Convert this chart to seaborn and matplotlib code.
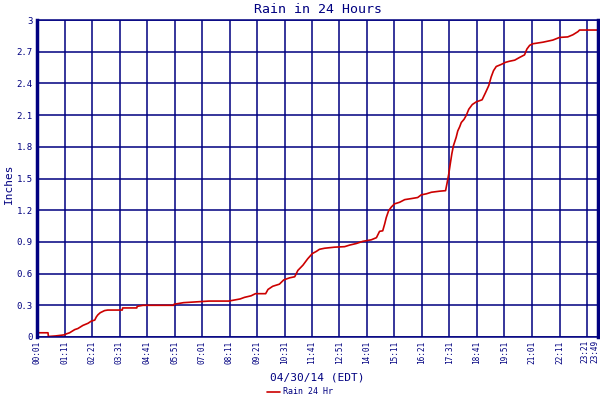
import pandas as pd
import numpy as np
import matplotlib
matplotlib.use('Agg')
import matplotlib.pyplot as plt
import seaborn as sns

# minutes after midnight and accumulated rain (inches)
minutes = [1, 29, 30, 48, 70, 76, 84, 97, 105, 118, 131, 139, 148, 152, 156, 162,
           173, 181, 218, 219, 255, 256, 271, 349, 350, 374, 439, 489, 518, 529,
           546, 557, 583, 589, 601, 618, 629, 644, 657, 665, 678, 690, 702, 712,
           720, 733, 758, 784, 797, 814, 830, 852, 865, 873, 881, 886, 890, 896,
           903, 911, 924, 937, 954, 970, 979, 992, 1005, 1026, 1041, 1045, 1049,
           1053, 1057, 1061, 1068, 1072, 1077, 1081, 1088, 1094, 1100, 1109, 1119,
           1134, 1143, 1151, 1157, 1163, 1170, 1183, 1194, 1204, 1217, 1229, 1242,
           1248, 1255, 1263, 1289, 1314, 1331, 1352, 1365, 1378, 1382, 1429]
rain = [0.04, 0.04, 0.005, 0.01, 0.02, 0.03, 0.04, 0.07, 0.08, 0.11, 0.13, 0.15,
        0.16, 0.19, 0.21, 0.23, 0.25, 0.255, 0.255, 0.275, 0.275, 0.29, 0.30, 0.30,
        0.31, 0.325, 0.34, 0.34, 0.36, 0.375, 0.39, 0.41, 0.41, 0.45, 0.48, 0.50,
        0.54, 0.56, 0.57, 0.63, 0.68, 0.74, 0.79, 0.81, 0.83, 0.84, 0.85, 0.855,
        0.87, 0.885, 0.905, 0.92, 0.94, 1.0, 1.005, 1.07, 1.13, 1.195, 1.23, 1.26,
        1.275, 1.30, 1.31, 1.32, 1.345, 1.355, 1.37, 1.38, 1.385, 1.46, 1.54, 1.64,
        1.735, 1.81, 1.89, 1.95, 1.99, 2.03, 2.06, 2.10, 2.155, 2.20, 2.225, 2.245,
        2.315, 2.38, 2.46, 2.52, 2.56, 2.58, 2.60, 2.61, 2.62, 2.645, 2.67, 2.725,
        2.76, 2.775, 2.79, 2.81, 2.835, 2.84, 2.86, 2.89, 2.905, 2.905]

tick_minutes = [1 + 70 * k for k in range(21)] + [1429]
tick_labels = ['%02d:%02d' % (m // 60, m % 60) for m in tick_minutes]
y_ticks = [0, 0.3, 0.6, 0.9, 1.2, 1.5, 1.8, 2.1, 2.4, 2.7, 3]
y_labels = ['0', '0.3', '0.6', '0.9', '1.2', '1.5', '1.8', '2.1', '2.4', '2.7', '3']

df = pd.DataFrame({'minute': minutes, 'rain': rain})

sns.set_style('white')
plt.rcParams['font.family'] = ['DejaVu Sans Mono']
navy = '#000080'
tick_size = 5.6

fig = plt.figure(figsize=(6, 4), dpi=100)
ax = fig.add_axes([37 / 600, 1 - 337 / 400, 561 / 600, 317 / 400])

sns.lineplot(data=df, x='minute', y='rain', ax=ax, color='#cc0000',
             linewidth=1.2, label='Rain 24 Hr', legend=False)

ax.set_xlim(1, 1429)
ax.set_ylim(0, 3)
ax.set_xticks(tick_minutes)
# the last two labels crowd the right border: draw them by hand, nudged left
ax.set_xticklabels(tick_labels[:-2] + ['', ''], rotation=90,
                   fontsize=tick_size, color=navy)
for m, lab, dx in [(tick_minutes[-2], tick_labels[-2], -2),
                   (tick_minutes[-1], tick_labels[-1], -3)]:
    ax.annotate(lab, xy=(m, 0), xycoords='data', xytext=(dx, -3),
                textcoords='offset pixels', rotation=90, ha='center', va='top',
                fontsize=tick_size, color=navy, annotation_clip=False)
ax.set_yticks(y_ticks)
ax.set_yticklabels(y_labels, fontsize=6.5, color=navy)
ax.tick_params(length=0, pad=3)
ax.grid(True, color=navy, linewidth=1.1)
ax.set_axisbelow(True)

for side in ['top', 'bottom']:
    ax.spines[side].set_color(navy)
    ax.spines[side].set_linewidth(1.1)
for side in ['left', 'right']:
    ax.spines[side].set_color(navy)
    ax.spines[side].set_linewidth(2.5)

ax.set_title('Rain in 24 Hours', color=navy, fontsize=9.5, pad=5)
ax.set_ylabel('')
ax.set_xlabel('04/30/14 (EDT)', color=navy, fontsize=8, labelpad=6)
fig.text(9 / 600, 0.54, 'Inches', rotation=90, ha='center', va='center',
         color=navy, fontsize=8)

handles, labels = ax.get_legend_handles_labels()
leg = fig.legend(handles, labels, loc='center', bbox_to_anchor=(0.5, 0.02),
                 frameon=False, fontsize=6, handlelength=1.5,
                 handletextpad=0.4, borderpad=0.1)
for t in leg.get_texts():
    t.set_color(navy)

fig.savefig('out.png', dpi=100)
